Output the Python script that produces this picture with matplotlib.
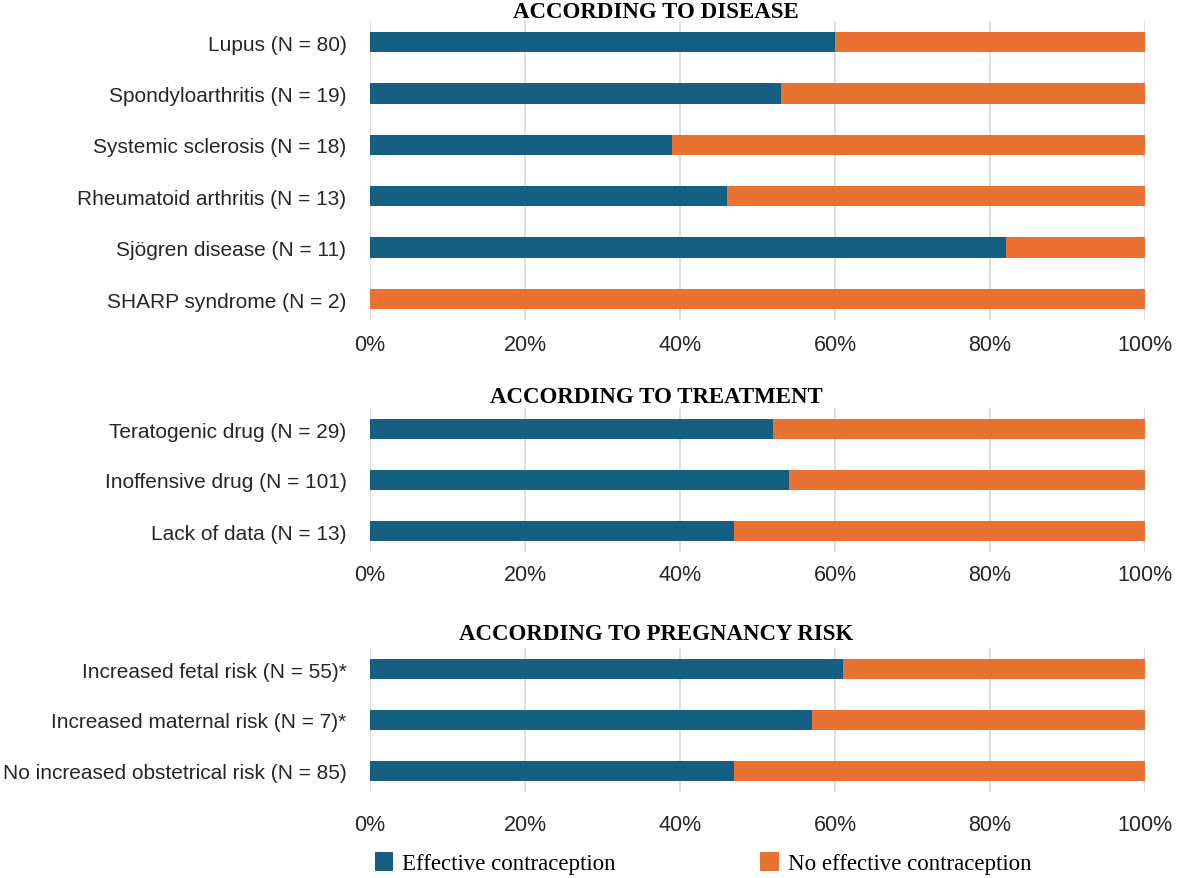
import matplotlib
matplotlib.use("Agg")
import matplotlib.pyplot as plt
import numpy as np

# ---- data ----
disease_labels = ["Lupus (N = 80)", "Spondyloarthritis (N = 19)", "Systemic sclerosis (N = 18)",
                  "Rheumatoid arthritis (N = 13)", "Sjögren disease (N = 11)", "SHARP syndrome (N = 2)"]
disease_effective = [60, 53, 39, 46, 82, 0]

treatment_labels = ["Teratogenic drug (N = 29)", "Inoffensive drug (N = 101)", "Lack of data (N = 13)"]
treatment_effective = [52, 54, 47]

risk_labels = ["Increased fetal risk (N = 55)*", "Increased maternal risk (N = 7)*",
               "No increased obstetrical risk (N = 85)"]
risk_effective = [61, 57, 47]

panel_titles = ["ACCORDING TO DISEASE", "ACCORDING TO TREATMENT", "ACCORDING TO PREGNANCY RISK"]
series_names = ["Effective contraception", "No effective contraception"]
x_ticks = [0, 20, 40, 60, 80, 100]
x_ticklabels = ["0%", "20%", "40%", "60%", "80%", "100%"]

BLUE = "#156082"
ORANGE = "#E97132"
GRID = "#D9D9D9"

W, H = 1200, 879
fig = plt.figure(figsize=(W / 100, H / 100), dpi=100)
fig.patch.set_facecolor("white")

SANS = ["Liberation Sans", "DejaVu Sans"]
SERIF = ["Liberation Serif", "DejaVu Serif"]


def px_axes(left, top, right, bottom):
    return fig.add_axes([left / W, 1 - bottom / H, (right - left) / W, (bottom - top) / H])


# panel layout: (first bar center, last bar center, tick label pad px, title baseline px)
layouts = [
    (43, 300, 14, 18),
    (430, 532, 12, 403),
    (670, 772, 22, 640),
]
panels = [
    (disease_labels, disease_effective),
    (treatment_labels, treatment_effective),
    (risk_labels, risk_effective),
]

bar_handles = None
for (labels, eff), (c0, c1, tpad, ty), title in zip(panels, layouts, panel_titles):
    n = len(labels)
    sp = (c1 - c0) / (n - 1)
    m = 0.41
    ax = px_axes(370, c0 - m * sp, 1145, c1 + m * sp)
    y = np.arange(n)
    eff = np.array(eff, dtype=float)
    no_eff = 100 - eff
    b1 = ax.barh(y, eff, height=0.4, color=BLUE, zorder=3)
    b2 = ax.barh(y, no_eff, left=eff, height=0.4, color=ORANGE, zorder=3)
    if bar_handles is None:
        bar_handles = (b1, b2)
    ax.set_xlim(0, 100)
    ax.set_ylim(n - 1 + m, -m)
    ax.set_yticks(y)
    ax.set_yticklabels(labels, fontfamily=SANS, fontsize=15, color="#262626")
    ax.set_xticks(x_ticks)
    ax.set_xticklabels(x_ticklabels, fontfamily=SANS, fontsize=15.5, color="#262626")
    ax.tick_params(axis="y", length=0, pad=17)
    ax.tick_params(axis="x", length=0, pad=tpad * 0.72)
    ax.grid(axis="x", color=GRID, linewidth=1.2, zorder=0)
    for s in ax.spines.values():
        s.set_visible(False)
    fig.text(656 / W, 1 - ty / H, title, ha="center", va="baseline",
             fontfamily=SERIF, fontweight="bold", fontsize=16.5, color="black")

fig.legend(bar_handles, series_names, loc="center", bbox_to_anchor=(703 / W, 1 - 864 / H),
           ncol=2, frameon=False, prop={"family": SERIF, "size": 16.5},
           handlelength=0.8, handleheight=0.95, handletextpad=0.4, columnspacing=6.3,
           borderaxespad=0, borderpad=0)

fig.savefig("out.png", dpi=100, facecolor="white")
